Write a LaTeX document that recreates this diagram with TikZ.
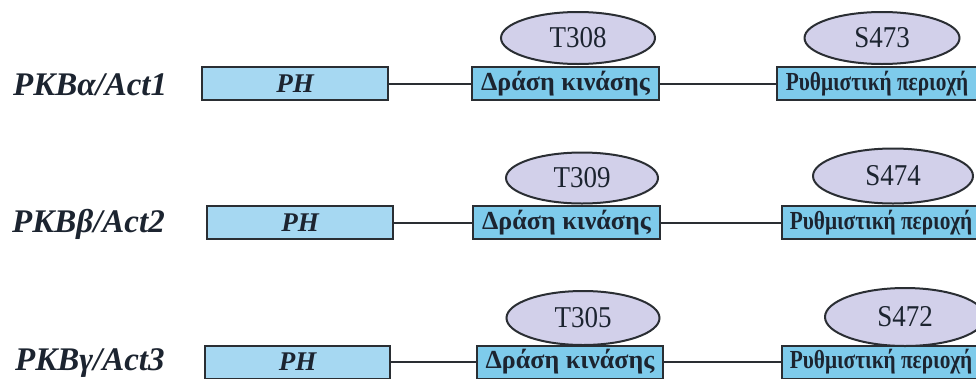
\documentclass[tikz,border=0pt]{standalone}
\usepackage{fontspec}
\setmainfont{Liberation Serif}
\usetikzlibrary{shapes.geometric}
\definecolor{phblue}{HTML}{A6D8F2}
\definecolor{domblue}{HTML}{7ECBEB}
\definecolor{lav}{HTML}{D2D0EA}
\definecolor{edge}{HTML}{2A2E33}
\definecolor{ink}{HTML}{1C2430}
\newcommand{\regtext}{\scalebox{0.82}[1]{Ρυθμιστική περιοχή}}
\newcommand{\sitetext}[1]{\scalebox{1}[1.12]{#1}}
\tikzset{
  phbox/.style={draw=edge, line width=2pt, fill=phblue, inner sep=0pt, minimum height=33pt,
     font=\fontsize{27}{27}\selectfont\bfseries\itshape, text=ink},
  dombox/.style={draw=edge, line width=2pt, fill=domblue, inner sep=0pt, minimum height=33pt,
     font=\fontsize{26}{26}\selectfont\bfseries, text=ink},
  site/.style={ellipse, draw=edge, line width=2pt, fill=lav, inner sep=0pt,
     font=\fontsize{27}{27}\selectfont, text=ink},
  protlabel/.style={anchor=base west, inner sep=0pt, font=\fontsize{33}{33}\selectfont\bfseries\itshape, text=ink},
  link/.style={draw=edge, line width=2pt}
}
\begin{document}
\begin{tikzpicture}[x=1pt,y=-1pt]
\useasboundingbox (0,0) rectangle (976,378);
\clip (0,0) rectangle (976,378);
\fill[white] (0,0) rectangle (976,378);
% ---------- Row 1 ----------
\node[protlabel] (l1) at (13,95) {PKBα/Act1};
\node[phbox, minimum width=186pt] (ph1) at (295,83.5) {PH};
\node[dombox, minimum width=187pt] (k1) at (565.5,83.5) {Δράση κινάσης};
\node[dombox, minimum width=200pt] (r1) at (877,83.5) {\regtext};
\node[site, minimum width=154pt, minimum height=52pt] (t1) at (578,38) {\sitetext{T308}};
\node[site, minimum width=155pt, minimum height=52pt] (s1) at (882,38) {\sitetext{S473}};
\draw[link] (ph1.east) -- (k1.west);
\draw[link] (k1.east) -- (r1.west);
% ---------- Row 2 ----------
\node[protlabel] (l2) at (12,232) {PKBβ/Act2};
\node[phbox, minimum width=186pt] (ph2) at (300,222.5) {PH};
\node[dombox, minimum width=187pt] (k2) at (566.5,222.5) {Δράση κινάσης};
\node[dombox, minimum width=198pt] (r2) at (881,222.5) {\regtext};
\node[site, minimum width=152pt, minimum height=51pt] (t2) at (582,178) {\sitetext{T309}};
\node[site, minimum width=160pt, minimum height=55pt] (s2) at (893,176) {\sitetext{S474}};
\draw[link] (ph2.east) -- (k2.west);
\draw[link] (k2.east) -- (r2.west);
% ---------- Row 3 ----------
\node[protlabel] (l3) at (15,370) {PKBγ/Act3};
\node[phbox, minimum width=185pt] (ph3) at (297.5,362) {PH};
\node[dombox, minimum width=186pt] (k3) at (570,362) {Δράση κινάσης};
\node[dombox, minimum width=198pt] (r3) at (881,362) {\regtext};
\node[site, minimum width=153pt, minimum height=54pt] (t3) at (583,318) {\sitetext{T305}};
\node[site, minimum width=160pt, minimum height=58pt] (s3) at (905,317) {\sitetext{S472}};
\draw[link] (ph3.east) -- (k3.west);
\draw[link] (k3.east) -- (r3.west);
\end{tikzpicture}
\end{document}
